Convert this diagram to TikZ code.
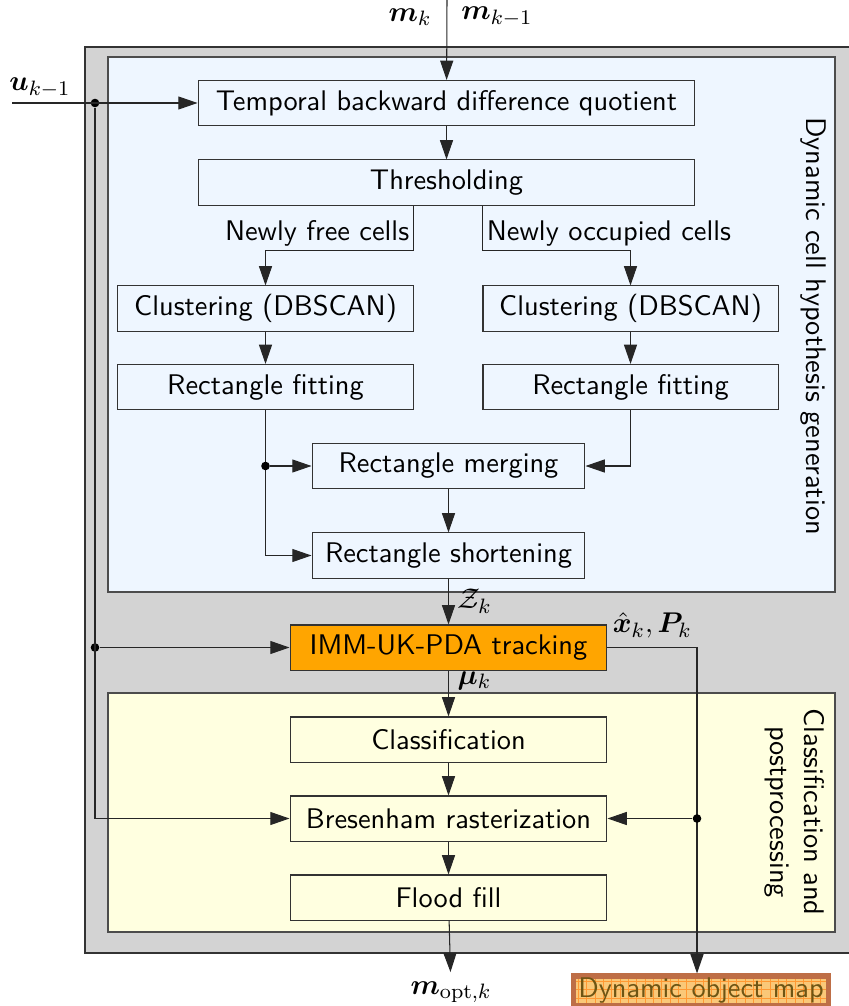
\documentclass[tikz,border=0pt]{standalone}
\usepackage{amsmath,bm}
\usetikzlibrary{arrows.meta,calc}
\definecolor{outergray}{RGB}{211,211,211}
\definecolor{hypblue}{RGB}{238,246,255}
\definecolor{postyellow}{RGB}{255,255,224}
\definecolor{trackorange}{RGB}{255,165,0}
\definecolor{mapfill}{RGB}{250,200,120}
\definecolor{mapedge}{RGB}{190,110,70}
\definecolor{maptext}{RGB}{110,85,20}
\begin{document}
\begin{tikzpicture}[x=0.384pt, y=-0.384pt, font=\sffamily\fontsize{10.9}{13}\selectfont,
    block/.style={draw=black!80, inner sep=0pt, minimum height=17.3pt},
    wideblock/.style={block, minimum width=190.8pt},
    halfblock/.style={block, minimum width=113.3pt},
    midblock/.style={block, minimum width=121.7pt},
    rectblock/.style={block, minimum width=104.8pt},
    arr/.style={-{Triangle[length=7.4pt,width=5pt]}, draw=black!85},
    dot/.style={circle, fill=black, inner sep=0pt, minimum size=3.3pt}]
    \useasboundingbox (0,0) rectangle (848,1006);

    % Background areas
    \draw[fill=outergray, draw=black!80] (85,47) rectangle (852,953);
    \draw[fill=hypblue, draw=black!70] (108,57) rectangle (835,592);
    \draw[fill=postyellow, draw=black!70] (108,693) rectangle (835,932);
    \node[rotate=-90] (lblhyp) at (813,326) {Dynamic cell hypothesis generation};
    \node[rotate=-90, align=center] (lblpost) at (795,812) {Classification and\\postprocessing};

    % Hypothesis generation blocks
    \node[wideblock] (temp)   at (446.5,103)   {Temporal backward difference quotient};
    \node[wideblock] (thresh) at (446.5,182.5) {Thresholding};
    \node[halfblock] (clusL)  at (265.5,308.5) {Clustering (DBSCAN)};
    \node[halfblock] (clusR)  at (630.5,308.5) {Clustering (DBSCAN)};
    \node[halfblock] (fitL)   at (265.5,387)   {Rectangle fitting};
    \node[halfblock] (fitR)   at (630.5,387)   {Rectangle fitting};
    \node[rectblock] (merge)  at (448.5,466)   {Rectangle merging};
    \node[rectblock] (short)  at (448.5,555.5) {Rectangle shortening};

    % Tracking and postprocessing blocks
    \node[midblock, fill=trackorange] (imm) at (448.5,647.5) {IMM-UK-PDA tracking};
    \node[midblock] (class) at (448.5,739.5) {Classification};
    \node[midblock] (bres)  at (448.5,818.5) {Bresenham rasterization};
    \node[midblock] (flood) at (448.5,897.5) {Flood fill};

    % Output map
    \node[draw=mapedge, line width=2pt, fill=mapfill, text=maptext, inner sep=0pt,
          minimum width=98pt, minimum height=11.5pt,
          path picture={\draw[orange!80, line width=0.3pt, step=3.2pt]
              (path picture bounding box.south west) grid (path picture bounding box.north east);}]
          (dom) at (701,991) {Dynamic object map};

    % Inputs and outputs
    \coordinate (min) at (447,0);
    \node (mk)   at (410,17) {$\bm{m}_k$};
    \node (mkm)  at (497,17) {$\bm{m}_{k-1}$};
    \coordinate (uin) at (12,103);
    \node (ulbl) at (40,88) {$\bm{u}_{k-1}$};
    \node (ud) [dot] at (95,103) {};
    \node (mopt) at (451,992) {$\bm{m}_{\mathrm{opt},k}$};
    \coordinate (xr) at (697,647.5);

    % Connections
    \draw[arr] (min) -- (temp);
    \draw[arr] (uin) -- (temp);
    \draw[arr] (temp) -- (thresh);
    \draw[arr] (thresh.south -| clusL.east) -- ++(0,45) node[above left, inner sep=1.5pt] (lfree) {Newly free cells} -| (clusL);
    \draw[arr] (thresh.south -| clusR.west) -- ++(0,45) node[above right, inner sep=1.5pt] (locc) {Newly occupied cells} -| (clusR);
    \draw[arr] (clusL) -- (fitL);
    \draw[arr] (clusR) -- (fitR);
    \draw[arr] (fitL) |- (short);
    \node (fd) [dot] at (fitL |- merge) {};
    \draw[arr] (fd) -- (merge);
    \draw[arr] (fitR) |- (merge);
    \draw[arr] (merge) -- (short);
    \draw[arr] (short) -- node[right] (zlbl) {$\mathcal{Z}_k$} (imm);
    \node (ui) [dot] at (ud |- imm) {};
    \draw[arr] (ui) -- (imm);
    \draw[arr] (ud) |- (bres);
    \draw[arr] (imm) -- node[right, pos=0.22] (mulbl) {$\bm{\mu}_k$} (class);
    \draw[arr] (class) -- (bres);
    \draw[arr] (bres) -- (flood);
    \draw[arr] (flood) -- (mopt);
    \draw[arr] (imm.east) -- node[above] (xlbl) {$\hat{\bm{x}}_k,\bm{P}_k$} (xr) -- (xr |- dom.north);
    \node (bd) [dot] at (xr |- bres) {};
    \draw[arr] (bd) -- (bres);
\end{tikzpicture}
\end{document}
